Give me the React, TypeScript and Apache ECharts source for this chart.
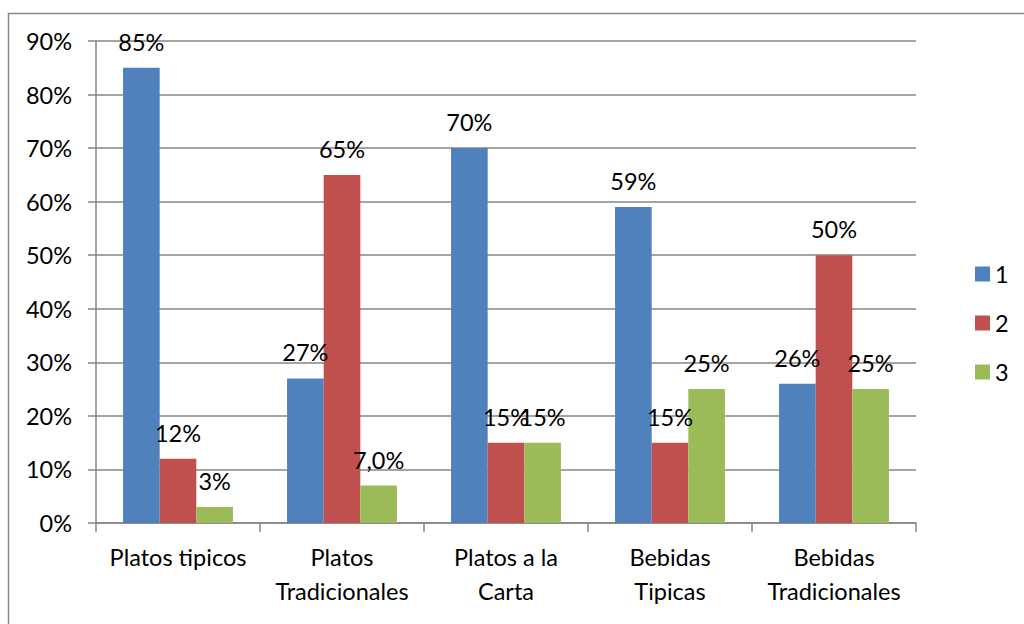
import React, { useEffect, useRef } from "react";
import * as echarts from "echarts";

const categories = [
  "Platos tipicos",
  "Platos\nTradicionales",
  "Platos a la\nCarta",
  "Bebidas\nTipicas",
  "Bebidas\nTradicionales",
];
const seriesNames = ["1", "2", "3"];
const series1 = [85, 27, 70, 59, 26];
const series2 = [12, 65, 15, 15, 50];
const series3 = [3, 7, 15, 25, 25];
const labels1 = ["85%", "27%", "70%", "59%", "26%"];
const labels2 = ["12%", "65%", "15%", "15%", "50%"];
const labels3 = ["3%", "7,0%", "15%", "25%", "25%"];
const yTicks = [0, 10, 20, 30, 40, 50, 60, 70, 80, 90];
const colors = ["#4F81BD", "#C0504D", "#9BBB59"];

const FONT = "Lato, 'Noto Sans', sans-serif";
const FS = 23.5;

export default function App() {
  const ref = useRef<HTMLDivElement>(null);
  useEffect(() => {
    if (!ref.current) return;
    const chart = echarts.init(ref.current, null, { renderer: "svg" });
    const data = [series1, series2, series3];
    const labs = [labels1, labels2, labels3];
    chart.setOption({
      animation: false,
      backgroundColor: "#ffffff",
      textStyle: { fontFamily: FONT },
      graphic: [
        {
          type: "rect",
          shape: { x: 8.5, y: 13.5, width: 1030, height: 630 },
          style: { fill: "none", stroke: "#878787", lineWidth: 1.5 },
          silent: true,
        },
      ],
      grid: { left: 96, right: 108, top: 41, bottom: 101 },
      legend: {
        orient: "vertical",
        left: 970,
        top: 257,
        itemWidth: 15,
        itemHeight: 15,
        itemGap: 25,
        icon: "rect",
        data: seriesNames,
        textStyle: { fontSize: FS, color: "#000", fontFamily: FONT },
      },
      xAxis: {
        type: "category",
        data: categories,
        axisLine: { show: true, lineStyle: { color: "#868686", width: 1.5 } },
        axisTick: { show: true, length: 9, lineStyle: { color: "#868686", width: 1.5 } },
        axisLabel: {
          fontSize: FS,
          color: "#000",
          fontFamily: FONT,
          margin: 17,
          lineHeight: 34,
          interval: 0,
        },
      },
      yAxis: {
        type: "value",
        min: 0,
        max: yTicks[yTicks.length - 1],
        interval: 10,
        axisLine: { show: true, lineStyle: { color: "#868686", width: 1.5 } },
        axisTick: { show: true, length: 8, lineStyle: { color: "#868686", width: 1.5 } },
        splitLine: { show: true, lineStyle: { color: "#868686", width: 1.5 } },
        axisLabel: {
          fontSize: FS,
          color: "#000",
          fontFamily: FONT,
          margin: 24,
          formatter: "{value}%",
        },
      },
      series: seriesNames.map((name, i) => ({
        name,
        type: "bar",
        data: data[i],
        barGap: "0%",
        barCategoryGap: "33%",
        itemStyle: { color: colors[i] },
        label: {
          show: true,
          position: "top",
          distance: 14,
          fontSize: FS,
          color: "#000",
          fontFamily: FONT,
          formatter: (p: any) => labs[i][p.dataIndex],
        },
        z: 2,
      })),
    });
    return () => chart.dispose();
  }, []);
  return (
    <div
      ref={ref}
      style={{ position: "fixed", left: 0, top: 0, width: 1024, height: 624 }}
    />
  );
}
